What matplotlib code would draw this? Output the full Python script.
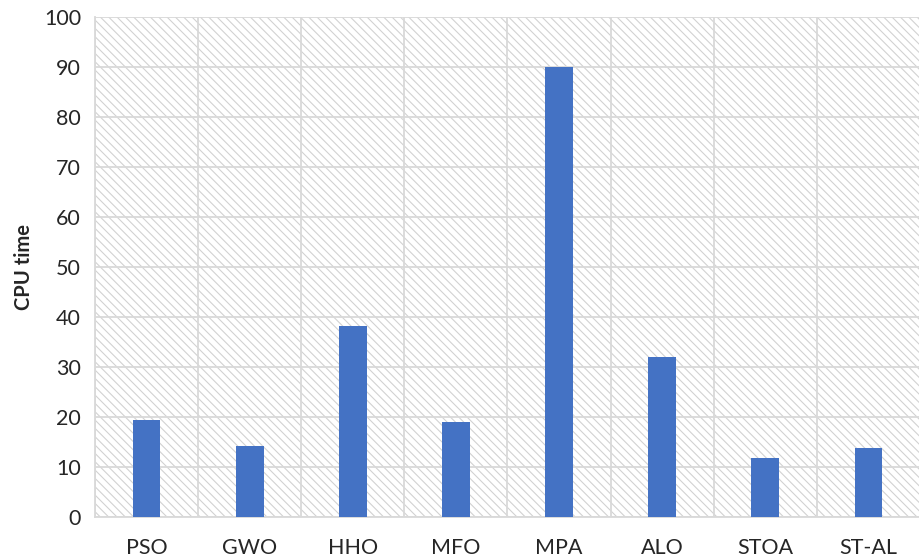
import matplotlib
matplotlib.use("Agg")
import matplotlib.pyplot as plt
from matplotlib.patches import Rectangle
import numpy as np

# CPU time per algorithm
algorithms = ["PSO", "GWO", "HHO", "MFO", "MPA", "ALO", "STOA", "ST-AL"]
cpu_time = [19.5, 14.3, 38.3, 19.1, 90.0, 32.1, 11.9, 13.8]
y_ticks = [0, 10, 20, 30, 40, 50, 60, 70, 80, 90, 100]

plt.rcParams["font.family"] = ["Lato", "DejaVu Sans"]
plt.rcParams["hatch.linewidth"] = 0.8

fig = plt.figure(figsize=(9.2, 5.6), dpi=100)
ax = fig.add_axes([95 / 920, 43 / 560, 825 / 920, 500 / 560])
ax.set_facecolor("none")

# hatched plot-area background
bg = Rectangle((0, 0), 1, 1, transform=ax.transAxes, facecolor="white",
               edgecolor="#d2d2d2", linewidth=0, hatch="\\\\\\\\", zorder=0)
ax.add_patch(bg)

x = np.arange(len(algorithms))
ax.bar(x, cpu_time, width=0.27, color="#4472C4", zorder=3)

ax.set_xlim(-0.5, len(algorithms) - 0.5)
ax.set_ylim(0, 100)
ax.set_yticks(y_ticks)
ax.set_xticks(x)
ax.set_xticklabels(algorithms)
ax.set_xticks(np.arange(-0.5, len(algorithms), 1.0), minor=True)

grid_color = "#d9d9d9"
ax.grid(axis="y", which="major", color=grid_color, linewidth=1.3, zorder=1)
ax.grid(axis="x", which="minor", color=grid_color, linewidth=1.3, zorder=1)
ax.grid(axis="x", which="major", visible=False)
ax.set_axisbelow(True)

for side in ["top", "right"]:
    ax.spines[side].set_visible(False)
for side in ["left", "bottom"]:
    ax.spines[side].set_color(grid_color)
    ax.spines[side].set_linewidth(1.3)

ax.tick_params(axis="both", which="both", length=0, labelsize=15.5,
               labelcolor="#262626")
ax.tick_params(axis="x", pad=15)
ax.tick_params(axis="y", pad=10)

ax.set_ylabel("CPU time", fontsize=14.5, fontweight="bold", color="#262626",
              labelpad=7)

fig.savefig("out.png", dpi=100)
